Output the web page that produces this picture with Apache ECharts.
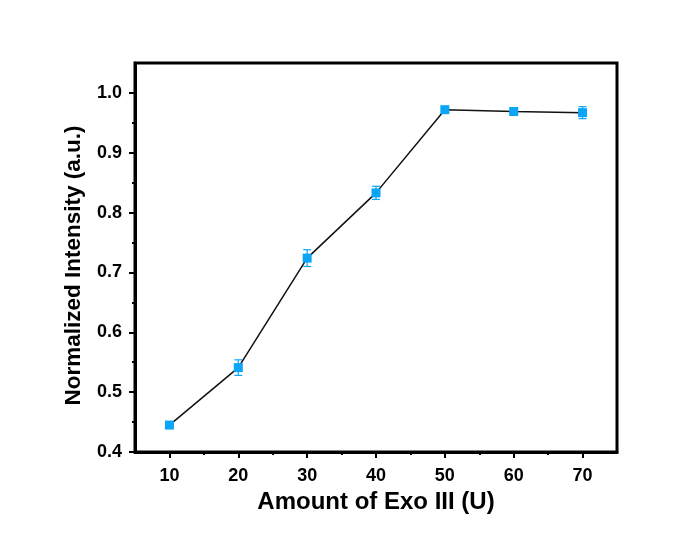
<!DOCTYPE html>
<html>
<head>
<meta charset="utf-8">
<script src="https://cdn.jsdelivr.net/npm/echarts@6/dist/echarts.min.js"></script>
<style>
html,body{margin:0;padding:0;background:#fff;}
#chart{width:700px;height:535px;}
</style>
</head>
<body>
<div id="chart"></div>
<script>
const amounts = [10, 20, 30, 40, 50, 60, 70];
const intensity = [0.445, 0.541, 0.724, 0.833, 0.972, 0.969, 0.967];
const errors = [0.003, 0.013, 0.014, 0.011, 0.003, 0.004, 0.010];
const xMajorTicks = [10, 20, 30, 40, 50, 60, 70];
const xMinorTicks = [15, 25, 35, 45, 55, 65];
const yMajorTicks = [0.4, 0.5, 0.6, 0.7, 0.8, 0.9, 1.0];
const yMinorTicks = [0.45, 0.55, 0.65, 0.75, 0.85, 0.95];
const xTitle = 'Amount of Exo III (U)';
const yTitle = 'Normalized Intensity (a.u.)';

const blue = '#0aa5f7';
const font = '"Liberation Sans", Arial, sans-serif';

const chart = echarts.init(document.getElementById('chart'));

const errData = amounts.map((a, i) => [a, intensity[i] - errors[i], intensity[i] + errors[i]]);

chart.setOption({
  animation: false,
  backgroundColor: '#fff',
  grid: { left: 135, right: 83, top: 63, bottom: 83, show: true, borderColor: '#000', borderWidth: 3, backgroundColor: 'transparent' },
  xAxis: [{
    type: 'value', min: 5, max: 75, position: 'bottom',
    name: xTitle, nameLocation: 'middle', nameGap: 36,
    nameTextStyle: { fontFamily: font, fontWeight: 'bold', fontSize: 24, color: '#000' },
    axisLine: { show: true, onZero: false, lineStyle: { color: '#000', width: 3 } },
    axisTick: { show: true, inside: false, length: 6, lineStyle: { color: '#000', width: 2 }, customValues: xMajorTicks },
    axisLabel: { show: true, customValues: xMajorTicks, margin: 15, fontFamily: font, fontWeight: 'bold', fontSize: 18, color: '#000' },
    splitLine: { show: false }
  }, {
    type: 'value', min: 5, max: 75, position: 'bottom',
    axisLine: { show: false },
    axisTick: { show: true, inside: false, length: 3, lineStyle: { color: '#000', width: 2 }, customValues: xMinorTicks },
    axisLabel: { show: false },
    splitLine: { show: false }
  }],
  yAxis: [{
    type: 'value', min: 0.4, max: 1.05, position: 'left',
    name: yTitle, nameLocation: 'middle', nameGap: 50,
    nameTextStyle: { fontFamily: font, fontWeight: 'bold', fontSize: 22.5, color: '#000', padding: [0, 16, 0, 0] },
    axisLine: { show: true, onZero: false, lineStyle: { color: '#000', width: 3 } },
    axisTick: { show: true, inside: false, length: 6, lineStyle: { color: '#000', width: 2 }, customValues: yMajorTicks },
    axisLabel: { show: true, customValues: yMajorTicks, margin: 13, fontFamily: font, fontWeight: 'bold', fontSize: 18, color: '#000', formatter: v => v.toFixed(1) },
    splitLine: { show: false }
  }, {
    type: 'value', min: 0.4, max: 1.05, position: 'left',
    axisLine: { show: false },
    axisTick: { show: true, inside: false, length: 3, lineStyle: { color: '#000', width: 2 }, customValues: yMinorTicks },
    axisLabel: { show: false },
    splitLine: { show: false }
  }],
  series: [{
    type: 'custom',
    xAxisIndex: 0, yAxisIndex: 0,
    data: errData,
    z: 3,
    renderItem: function (params, api) {
      const x = api.value(0);
      const lo = api.coord([x, api.value(1)]);
      const hi = api.coord([x, api.value(2)]);
      const hw = 4;
      const style = { stroke: blue, lineWidth: 1.2, fill: null };
      return {
        type: 'group',
        children: [
          { type: 'line', shape: { x1: lo[0], y1: lo[1], x2: hi[0], y2: hi[1] }, style: style },
          { type: 'line', shape: { x1: lo[0] - hw, y1: lo[1], x2: lo[0] + hw, y2: lo[1] }, style: style },
          { type: 'line', shape: { x1: hi[0] - hw, y1: hi[1], x2: hi[0] + hw, y2: hi[1] }, style: style }
        ]
      };
    }
  }, {
    type: 'line',
    xAxisIndex: 0, yAxisIndex: 0,
    data: amounts.map((a, i) => [a, intensity[i]]),
    symbol: 'rect', symbolSize: 9, showAllSymbol: true,
    itemStyle: { color: blue },
    lineStyle: { color: '#111', width: 1.5 },
    z: 4
  }]
});
</script>
</body>
</html>
